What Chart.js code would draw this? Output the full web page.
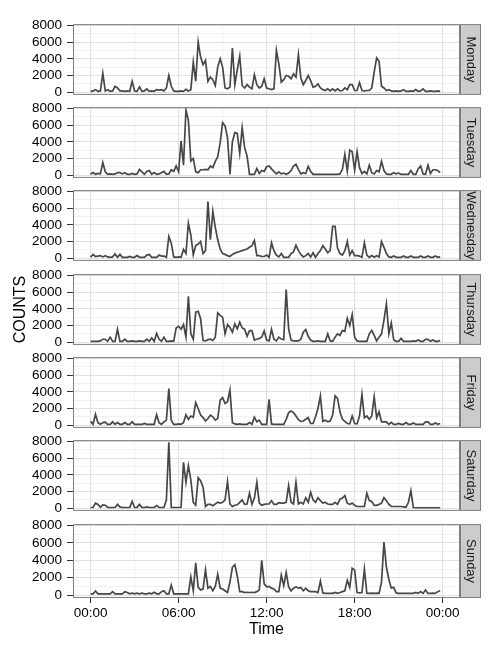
<!DOCTYPE html>
<html>
<head>
<meta charset="utf-8">
<script src="https://cdn.jsdelivr.net/npm/chart.js@4"></script>
<style>
  html, body { margin: 0; padding: 0; background: #fff; }
  #wrap { position: relative; width: 500px; height: 650px; overflow: hidden; }
  .panel { position: absolute; left: 0; width: 500px; }
</style>
</head>
<body>
<div id="wrap"></div>
<script>
// Facet labels, one panel per day
const days = ["Monday", "Tuesday", "Wednesday", "Thursday", "Friday", "Saturday", "Sunday"];

// Counts every 10 minutes from 00:00 to 23:50 (one line = 6 hours)
const monday = [
  100,150,300,100,150,2250, 150,300,100,150,700,500, 150,150,100,150,100,1300, 150,100,650,100,150,400, 100,150,100,300,250,300, 150,500,2000,700,150,100,
  100,150,100,350,150,300, 3600,1300,6000,4200,3300,3800, 1300,1800,1500,800,3000,4000, 3000,500,400,600,5300,900, 2700,4300,800,500,900,600, 400,2100,900,500,700,1600,
  500,400,300,400,5000,3400, 1200,1500,2000,1900,1600,2200, 1800,4500,1700,900,1400,2000, 1400,600,700,1000,500,300, 200,400,150,400,150,400, 150,200,500,300,900,900,
  200,200,1150,200,150,200, 200,500,2400,4100,3700,700, 500,200,300,150,100,150, 100,150,300,100,100,150, 100,300,100,150,400,100, 100,150,100,100,150,100
];
const tuesday = [
  100,300,100,200,150,1500, 400,100,150,100,150,300, 300,150,300,100,100,200, 100,150,700,400,100,450, 550,100,300,100,150,300, 450,100,150,650,450,1100,
  400,4100,1200,7800,6600,1700, 2000,400,300,650,650,700, 650,1100,900,1650,2200,3900, 6300,5900,4500,100,4000,5100, 5000,2600,5700,3300,2300,100, 100,100,800,200,550,450,
  1000,1100,750,450,150,400, 150,250,100,250,550,1100, 1300,700,150,300,200,1050, 450,100,100,100,100,100, 100,100,100,100,100,100, 150,700,2500,500,3000,2800,
  600,2800,900,200,450,150, 1200,300,150,550,400,1650, 550,150,100,100,300,150, 250,100,100,100,100,550, 100,100,750,1100,150,100, 1200,200,650,650,550,300
];
const wednesday = [
  100,450,200,250,300,150, 300,150,100,150,500,100, 450,100,100,100,200,100, 100,300,100,100,100,370, 450,100,100,100,370,250, 250,100,2600,1800,150,100,
  150,100,1050,550,4200,2800, 400,1500,1700,2000,550,900, 6800,2200,5600,3700,2200,1100, 550,450,300,200,450,600, 700,800,900,1000,1100,1300, 1500,2100,300,300,200,200,
  370,100,1850,900,370,150, 550,100,100,100,550,750, 1550,900,450,150,300,550, 150,650,100,550,900,1500, 1100,650,900,3800,3800,1200, 550,370,900,2000,370,900,
  300,300,250,100,1850,370, 100,300,100,300,150,2000, 1300,550,150,100,250,100, 100,100,250,100,100,250, 100,100,100,250,100,100, 250,100,100,250,100,150
];
const thursday = [
  100,100,100,100,150,350, 350,100,600,100,100,1550, 100,100,350,100,100,150, 100,100,150,100,100,350, 100,500,100,1050,350,100, 600,100,100,150,100,1700,
  1900,1550,2100,600,5500,1000, 350,3600,3700,2800,200,150, 300,350,200,600,3500,3200, 3000,1000,2100,1750,1200,2200, 1600,2400,1700,1550,700,1370, 1370,250,350,450,600,1350,
  250,150,1550,350,150,600, 370,300,6300,1600,250,150, 150,150,350,1200,1500,700, 250,100,100,150,100,100, 100,1000,150,100,600,1000, 800,1400,1300,2850,2000,3300,
  600,150,100,100,100,100, 1000,1400,800,150,600,1000, 2650,4600,1000,2300,250,100, 100,450,100,100,100,100, 150,100,250,100,100,330, 330,100,250,100,100,200
];
const friday = [
  450,100,1300,300,100,300, 350,100,100,400,100,300, 100,100,300,100,100,400, 100,100,100,100,200,100, 100,100,100,1250,300,100, 400,600,4400,600,100,100,
  150,100,300,1250,700,1100, 950,2700,2000,1200,900,500, 800,1200,1000,600,800,3000, 3300,2600,2800,4200,300,150, 100,150,100,100,100,300, 100,960,400,600,100,100,
  100,3100,150,100,100,100, 100,100,700,1500,1700,1500, 1100,650,450,500,700,900, 200,200,1000,2000,3500,450, 600,400,500,1200,3500,3200, 1600,700,450,200,150,1100,
  200,150,1100,3700,900,1100, 700,1100,3400,900,1600,400, 400,400,100,330,100,100, 200,100,100,300,100,100, 250,100,100,100,100,400, 400,100,100,250,100,200
];
const saturday = [
  80,100,600,450,100,400, 350,80,80,80,80,450, 150,80,80,80,100,800, 80,100,450,80,80,150, 80,80,80,300,80,80, 80,1000,7900,80,80,80,
  80,100,5500,3100,5100,3400, 700,350,3650,3300,2500,200, 450,450,300,500,700,600, 700,1000,3200,500,200,350, 400,700,1000,450,500,1800, 450,1200,3100,600,350,450,
  500,500,900,450,450,650, 600,600,700,2700,700,500, 3100,500,700,500,1250,700, 1900,1000,700,1250,900,600, 700,500,450,450,700,450, 1070,1200,1500,600,450,600,
  330,200,200,200,200,1800, 900,800,330,330,450,600, 1260,900,450,200,200,200, 200,200,150,100,700,2100, 80,50,50,50,50,50, 50,50,50,50,50,50
];
const sunday = [
  150,150,480,150,150,150, 150,150,150,400,150,150, 150,150,400,300,150,220, 150,220,150,220,150,150, 220,150,330,150,150,400, 500,150,150,1150,150,150,
  150,150,150,150,150,2100, 500,3700,900,600,700,2900, 800,1000,500,1000,2400,800, 700,500,300,1500,3200,3500, 2200,400,400,300,330,300, 330,300,400,600,4000,1300,
  950,1000,800,700,400,400, 2300,1100,2600,950,500,800, 950,800,880,500,800,500, 400,400,400,300,1600,250, 200,200,200,200,300,200, 300,400,500,1700,900,3100,
  2900,300,250,300,3000,220, 200,220,200,220,200,1500, 6100,3200,1800,800,900,250, 200,200,200,200,200,200, 200,300,200,400,200,590, 200,200,220,200,400,500
];
const series = [monday, tuesday, wednesday, thursday, friday, saturday, sunday];
const STEP_MIN = 10;

// Axis ticks (minutes since midnight / counts); odd ones are minor grid lines
const xTicks = [0, 180, 360, 540, 720, 900, 1080, 1260, 1440];
const xLabels = { 0: "00:00", 360: "06:00", 720: "12:00", 1080: "18:00", 1440: "00:00" };
const yTicks = [0, 1000, 2000, 3000, 4000, 5000, 6000, 7000, 8000];

const FONT = '"Liberation Sans", Arial, sans-serif';
const PANEL_H = 77;
const PAD = 10;
const MAJOR = "#e0e0e0";
const MINOR = "#f1f1f1";

// Panel border and the grey strip with the day name on the right
const stripPlugin = {
  id: "strip",
  afterDatasetsDraw(chart, args, opts) {
    const { ctx, chartArea: a } = chart;
    ctx.save();
    ctx.strokeStyle = "#7f7f7f";
    ctx.lineWidth = 1;
    ctx.strokeRect(a.left + 0.5, a.top + 0.5, a.right - a.left - 1, a.bottom - a.top - 1);
    const sx = a.right + 0.5;
    const sw = 20;
    ctx.fillStyle = "#cccccc";
    ctx.fillRect(sx, a.top + 0.5, sw, a.bottom - a.top - 1);
    ctx.strokeRect(sx, a.top + 0.5, sw, a.bottom - a.top - 1);
    ctx.translate(sx + sw / 2, (a.top + a.bottom) / 2);
    ctx.rotate(Math.PI / 2);
    ctx.fillStyle = "#1a1a1a";
    ctx.font = "13px " + FONT;
    ctx.textAlign = "center";
    ctx.textBaseline = "middle";
    ctx.fillText(opts.label, 0, 0);
    ctx.restore();
  },
};

const wrap = document.getElementById("wrap");

days.forEach((day, i) => {
  const isLast = i === days.length - 1;
  const top = Math.round(20.7 + i * 83.33);

  const box = document.createElement("div");
  box.className = "panel";
  box.style.top = top - PAD + "px";
  box.style.height = (isLast ? 650 - (top - PAD) : PANEL_H + 2 * PAD) + "px";
  const canvas = document.createElement("canvas");
  box.appendChild(canvas);
  wrap.appendChild(box);

  new Chart(canvas, {
    type: "line",
    data: {
      datasets: [
        {
          label: day,
          data: series[i].map((v, k) => ({ x: k * STEP_MIN, y: v })),
          borderColor: "#474747",
          borderWidth: 1.7,
          pointRadius: 0,
          tension: 0,
        },
      ],
    },
    options: {
      responsive: true,
      maintainAspectRatio: false,
      animation: false,
      layout: { padding: { top: PAD, bottom: isLast ? 0 : PAD, left: 0, right: 40 } },
      plugins: {
        legend: { display: false },
        tooltip: { enabled: false },
        strip: { label: day },
      },
      scales: {
        x: {
          type: "linear",
          min: -72,
          max: 1511,
          afterBuildTicks: (axis) => {
            axis.ticks = xTicks.map((v) => ({ value: v }));
          },
          afterFit: (axis) => {
            axis.height = isLast ? 52 : 0;
          },
          border: { display: false },
          grid: {
            color: (ctx) => (ctx.tick.value % 360 === 0 ? MAJOR : MINOR),
            drawTicks: isLast,
            tickLength: 5,
            tickColor: (ctx) => (ctx.tick.value % 360 === 0 ? "#333" : "rgba(0,0,0,0)"),
          },
          ticks: {
            display: isLast,
            autoSkip: false,
            maxRotation: 0,
            padding: 2,
            color: "#000",
            font: { family: FONT, size: 13.5 },
            callback: (v) => xLabels[v] ?? "",
          },
          title: {
            display: isLast,
            text: "Time",
            color: "#000",
            font: { family: FONT, size: 16 },
            padding: { top: 0, bottom: 11 },
          },
        },
        y: {
          min: -330,
          max: 8160,
          afterBuildTicks: (axis) => {
            axis.ticks = yTicks.map((v) => ({ value: v }));
          },
          afterFit: (axis) => {
            axis.width = 73;
          },
          border: { display: false },
          grid: {
            color: (ctx) => (ctx.tick.value % 2000 === 0 ? MAJOR : MINOR),
            tickLength: 6,
            tickColor: (ctx) => (ctx.tick.value % 2000 === 0 ? "#333" : "rgba(0,0,0,0)"),
          },
          ticks: {
            autoSkip: false,
            padding: 5,
            color: "#000",
            font: { family: FONT, size: 13.5 },
            callback: (v) => (v % 2000 === 0 ? String(v) : ""),
          },
          title: {
            display: i === 3,
            text: "COUNTS",
            color: "#000",
            font: { family: FONT, size: 16 },
            padding: { top: 11, bottom: 0 },
          },
        },
      },
    },
    plugins: [stripPlugin],
  });
});
</script>
</body>
</html>
